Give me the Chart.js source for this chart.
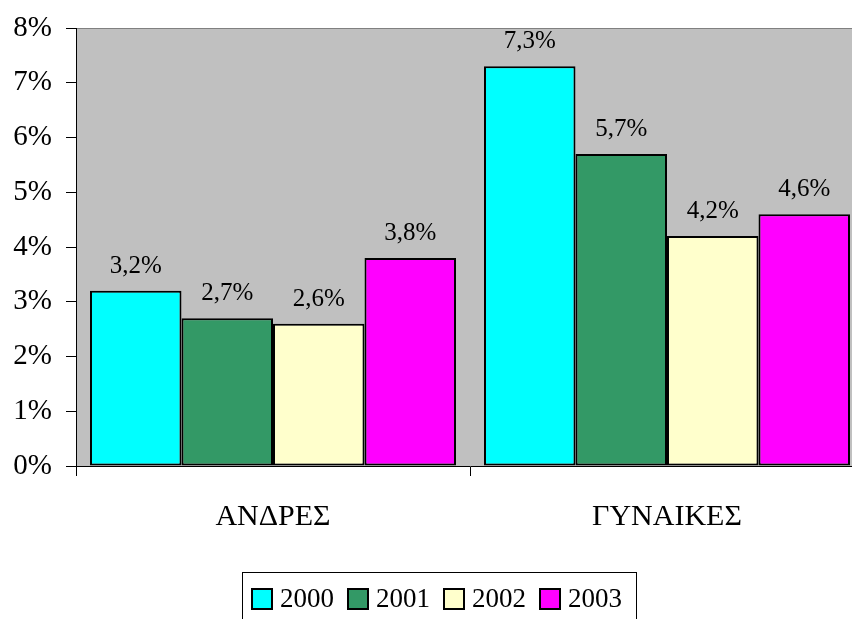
<!DOCTYPE html>
<html>
<head>
<meta charset="utf-8">
<script src="https://cdn.jsdelivr.net/npm/chart.js@4/dist/chart.umd.min.js"></script>
<style>
  html, body { margin: 0; padding: 0; background: #fff; overflow: hidden; }
  #wrap { width: 866px; height: 619px; }
</style>
</head>
<body>
<div id="wrap"><canvas id="chart"></canvas></div>
<script>
const categories = ['ΑΝΔΡΕΣ', 'ΓΥΝΑΙΚΕΣ'];
const years = ['2000', '2001', '2002', '2003'];
const values2000 = [3.2, 7.3];
const values2001 = [2.7, 5.7];
const values2002 = [2.6, 4.2];
const values2003 = [3.8, 4.6];
const yTicks = [0, 1, 2, 3, 4, 5, 6, 7, 8];
const colors = ['#00FFFF', '#339966', '#FFFFCC', '#FF00FF'];

const FONT = '"Liberation Serif", "Times New Roman", serif';

// grey plot area with thin frame on top/right
const plotBackground = {
  id: 'plotBackground',
  beforeDraw(chart) {
    const { ctx, chartArea: a } = chart;
    ctx.save();
    ctx.fillStyle = '#C0C0C0';
    ctx.fillRect(a.left, a.top, a.right - a.left, a.bottom - a.top);
    ctx.strokeStyle = '#808080';
    ctx.lineWidth = 1;
    ctx.beginPath();
    ctx.moveTo(a.left, a.top + 0.5);
    ctx.lineTo(a.right, a.top + 0.5);
    ctx.moveTo(a.right - 0.5, a.top);
    ctx.lineTo(a.right - 0.5, a.bottom);
    ctx.stroke();
    ctx.restore();
  },
};

const valueLabels = {
  id: 'valueLabels',
  afterDatasetsDraw(chart) {
    const { ctx } = chart;
    ctx.save();
    ctx.font = '25px ' + FONT;
    ctx.fillStyle = '#000';
    ctx.textAlign = 'center';
    ctx.textBaseline = 'alphabetic';
    chart.data.datasets.forEach((ds, i) => {
      chart.getDatasetMeta(i).data.forEach((bar, j) => {
        const text = ds.data[j].toFixed(1).replace('.', ',') + '%';
        ctx.fillText(text, bar.x, bar.y - 18);
      });
    });
    ctx.restore();
  },
};

const boxLegend = {
  id: 'boxLegend',
  afterDraw(chart) {
    const { ctx } = chart;
    ctx.save();
    ctx.strokeStyle = '#000';
    ctx.lineWidth = 1;
    ctx.strokeRect(242.5, 572.5, 394, 80);
    ctx.font = '27px ' + FONT;
    ctx.textBaseline = 'middle';
    ctx.textAlign = 'left';
    let x = 252;
    chart.data.datasets.forEach((ds) => {
      ctx.fillStyle = ds.backgroundColor;
      ctx.fillRect(x, 589, 20, 20);
      ctx.lineWidth = 2;
      ctx.strokeStyle = '#000';
      ctx.strokeRect(x, 589, 20, 20);
      ctx.fillStyle = '#000';
      ctx.fillText(ds.label, x + 28, 600);
      x += 28 + ctx.measureText(ds.label).width + 14;
    });
    ctx.restore();
  },
};

const datasets = [values2000, values2001, values2002, values2003].map((data, i) => ({
  label: years[i],
  data,
  backgroundColor: colors[i],
  borderColor: '#000',
  borderWidth: 2,
  borderSkipped: false,
  categoryPercentage: 0.929,
  barPercentage: 1,
}));

new Chart(document.getElementById('chart'), {
  type: 'bar',
  data: { labels: categories, datasets },
  options: {
    responsive: true,
    maintainAspectRatio: false,
    animation: false,
    layout: { padding: { top: 28, right: 2, bottom: 83, left: 0 } },
    plugins: {
      legend: { display: false },
      tooltip: { enabled: false },
    },
    scales: {
      x: {
        grid: {
          drawOnChartArea: false,
          tickLength: 10,
          color: '#000',
          offset: true,
        },
        border: { color: '#000', width: 1 },
        ticks: {
          color: '#000',
          font: { family: FONT, size: 30 },
          padding: 23,
        },
        afterFit(scale) {
          scale.height = 70;
          scale.paddingLeft = 0;
          scale.paddingRight = 0;
        },
      },
      y: {
        min: 0,
        max: 8,
        afterBuildTicks(scale) { scale.ticks = yTicks.map((v) => ({ value: v })); },
        grid: {
          drawOnChartArea: false,
          tickLength: 10,
          color: '#000',
        },
        border: { color: '#000', width: 1 },
        ticks: {
          color: '#000',
          font: { family: FONT, size: 29 },
          padding: 14,
          callback: (v) => v + '%',
        },
        afterFit(scale) {
          scale.width = 76;
          scale.paddingTop = 0;
          scale.paddingBottom = 0;
        },
      },
    },
  },
  plugins: [plotBackground, valueLabels, boxLegend],
});
</script>
</body>
</html>
